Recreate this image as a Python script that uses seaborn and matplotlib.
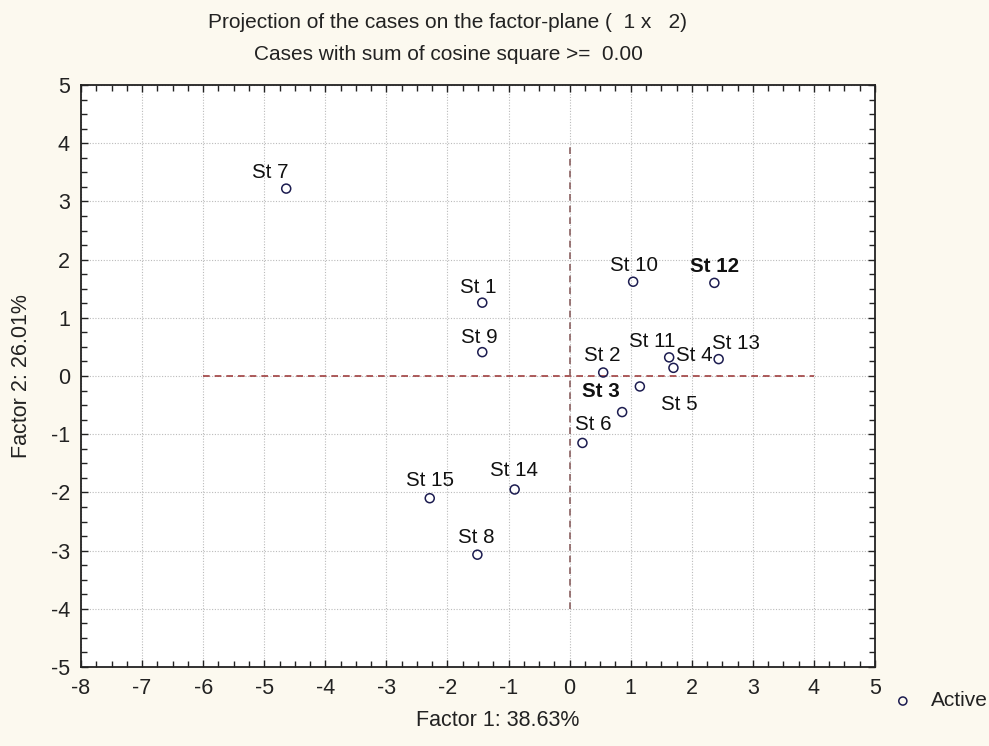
import matplotlib
matplotlib.use("Agg")
import matplotlib.pyplot as plt
import seaborn as sns
import pandas as pd
from matplotlib.ticker import MultipleLocator

# ---- data ----
case_names = ["St 1", "St 2", "St 3", "St 4", "St 5", "St 6", "St 7", "St 8",
              "St 9", "St 10", "St 11", "St 12", "St 13", "St 14", "St 15"]
factor1 = [-1.43, 0.55, 0.86, 1.70, 1.15, 0.21, -4.64, -1.51,
           -1.43, 1.04, 1.63, 2.37, 2.44, -0.90, -2.29]
factor2 = [1.26, 0.06, -0.62, 0.14, -0.18, -1.15, 3.22, -3.07,
           0.41, 1.62, 0.32, 1.60, 0.29, -1.95, -2.10]
bold_cases = ["St 3", "St 12"]
x_ticks = list(range(-8, 6))
y_ticks = list(range(-5, 6))

# label offsets in pixels (dx, dy up)
label_offsets = {
    "St 1": (-4, 15), "St 2": (-1, 17), "St 3": (-21, 21), "St 4": (21, 12),
    "St 5": (39, -18), "St 6": (11, 18), "St 7": (-16, 16), "St 8": (-1, 17),
    "St 9": (-3, 15), "St 10": (1, 16), "St 11": (-17, 16), "St 12": (0, 16),
    "St 13": (17, 16), "St 14": (-1, 19), "St 15": (0, 18),
}

df = pd.DataFrame({"case": case_names, "Factor 1": factor1, "Factor 2": factor2})

sns.set_theme(style="white")
plt.rcParams["font.family"] = ["Liberation Sans", "DejaVu Sans"]
plt.rcParams["axes.unicode_minus"] = False

bg = "#fcf9ef"
fig = plt.figure(figsize=(9.89, 7.46), dpi=100, facecolor=bg)
ax = fig.add_axes([81 / 989, 1 - 667 / 746, 794 / 989, 582 / 746])
ax.set_facecolor("white")

# reference lines
ax.plot([-6, 4], [0, 0], color="#a04040", lw=1.2, ls=(0, (4, 3)), zorder=1)
ax.plot([0, 0], [-4, 4], color="#8a6060", lw=1.2, ls=(0, (4, 3)), zorder=1)

sns.scatterplot(data=df, x="Factor 1", y="Factor 2", ax=ax, marker="o",
                s=42, facecolor="none", edgecolor="#1c1c50", linewidth=1.1,
                label="Active", legend=False, zorder=3)

for name, x, y in zip(case_names, factor1, factor2):
    dx, dy = label_offsets[name]
    ax.annotate(name, (x, y), xytext=(dx, dy), textcoords="offset pixels",
                ha="center", va="center", fontsize=14.8, color="#111111",
                fontweight="bold" if name in bold_cases else "normal")

ax.set_xlim(-8, 5)
ax.set_ylim(-5, 5)
ax.set_xticks(x_ticks)
ax.set_yticks(y_ticks)
ax.xaxis.set_minor_locator(MultipleLocator(0.25))
ax.yaxis.set_minor_locator(MultipleLocator(0.25))
ax.tick_params(which="both", direction="in", top=True, right=True,
               bottom=True, left=True, color="#222222")
ax.tick_params(which="major", length=5, width=1, labelsize=15.5, pad=8,
               labelcolor="#222222")
ax.tick_params(which="minor", length=4, width=1)
ax.grid(True, which="major", ls=(0, (1, 1.5)), color="#bbbbbb", lw=0.8)
for sp in ax.spines.values():
    sp.set_color("#222222")
    sp.set_linewidth(1.3)

ax.set_xlabel("")
ax.set_ylabel("")
fig.text(498 / 989, 1 - 720 / 746, "Factor 1: 38.63%", ha="center", va="center",
         fontsize=15.5, color="#222222")
fig.text(22 / 989, 1 - 376 / 746, "Factor 2: 26.01%", ha="center", va="center",
         rotation=90, fontsize=15.5, color="#222222")
fig.text(447 / 989, 1 - 22 / 746, "Projection of the cases on the factor-plane (  1 x   2)",
         ha="center", va="center", fontsize=15, color="#222222")
fig.text(448 / 989, 1 - 55 / 746, "Cases with sum of cosine square >=  0.00",
         ha="center", va="center", fontsize=15, color="#222222")

handles, labels = ax.get_legend_handles_labels()
fig.legend(handles, labels, loc="center left", bbox_to_anchor=(882 / 989, 1 - 701 / 746),
           frameon=False, fontsize=15, handletextpad=0.75, markerscale=0.9,
           handlelength=1.2, labelcolor="#222222", borderaxespad=0, borderpad=0.4)

fig.savefig("out.png", dpi=100, facecolor=bg)
